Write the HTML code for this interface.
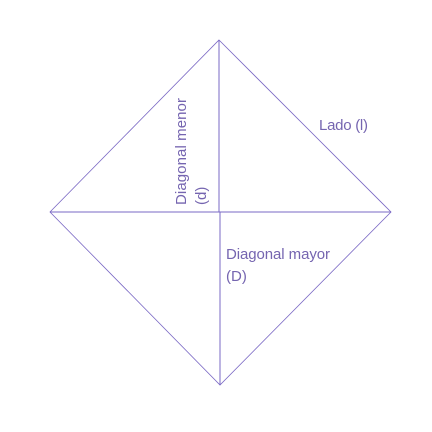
<!DOCTYPE html>
<html><head><meta charset="utf-8"><style>
html,body{margin:0;padding:0;background:#fff;}
svg{display:block;font-family:"Liberation Sans",sans-serif;}
text{fill:#7565b0;font-size:15px;}
</style></head><body>
<svg width="432" height="432" viewBox="0 0 432 432">
<rect width="432" height="432" fill="#fff"/>
<g stroke="#7a68c4" stroke-width="1" fill="none">
<polygon points="219,40 391,212 220,385 50,212" stroke-width="0.8"/>
<line x1="50" y1="212" x2="391" y2="212"/>
<line x1="219" y1="40" x2="219" y2="212"/>
<line x1="220" y1="212" x2="220" y2="385"/>
</g>
<text x="319" y="130" textLength="49">Lado (l)</text>
<text x="226" y="259" textLength="104">Diagonal mayor</text>
<text x="226" y="281">(D)</text>
<text transform="translate(186,205) rotate(-90)" textLength="107">Diagonal menor</text>
<text transform="translate(206,205) rotate(-90)">(d)</text>
</svg>
</body></html>
